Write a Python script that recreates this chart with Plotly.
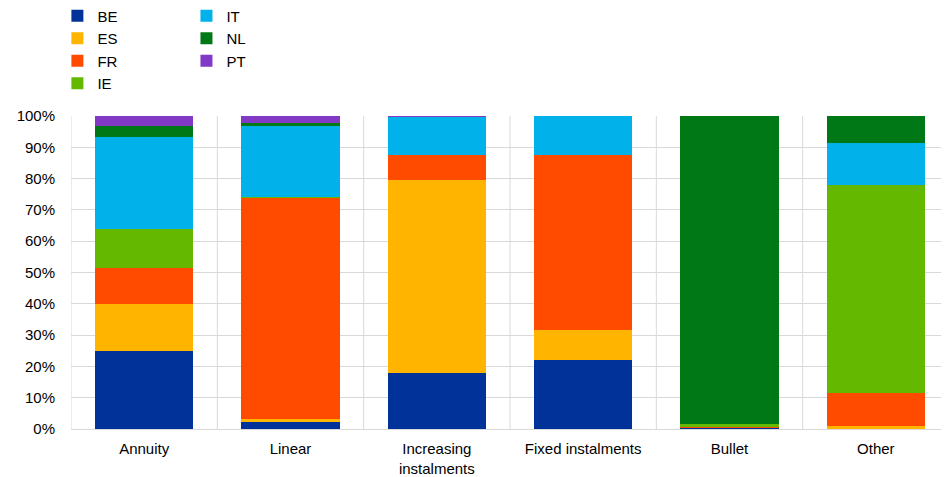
import plotly.graph_objects as go

categories = ["Annuity", "Linear", "Increasing<br>instalments", "Fixed instalments", "Bullet", "Other"]
series_names = ["BE", "ES", "FR", "IE", "IT", "NL", "PT"]
BE = [24.8, 2.3, 17.9, 22.0, 0.5, 0.0]
ES = [15.1, 0.8, 61.7, 9.6, 0.0, 1.0]
FR = [11.4, 70.9, 8.0, 55.9, 0.2, 10.6]
IE = [12.6, 0.2, 0.0, 0.0, 0.8, 66.4]
IT = [29.5, 22.6, 12.2, 12.5, 0.0, 13.4]
NL = [3.4, 1.1, 0.0, 0.0, 98.5, 8.6]
PT = [3.2, 2.1, 0.2, 0.0, 0.0, 0.0]
values = [BE, ES, FR, IE, IT, NL, PT]
colors = ["#003299", "#FFB400", "#FF4B00", "#65B800", "#00B1EA", "#007816", "#8139C6"]
y_ticks = [0, 10, 20, 30, 40, 50, 60, 70, 80, 90, 100]

fig = go.Figure()
for i, (name, vals, col) in enumerate(zip(series_names, values, colors)):
    fig.add_trace(go.Bar(
        name=name, x=categories, y=vals, marker=dict(color=col, line=dict(width=0)),
        legend="legend" if i < 4 else "legend2",
    ))

# vertical grid lines between categories
for k in range(len(categories) + 1):
    fig.add_shape(type="line", xref="x", yref="paper", x0=k - 0.5, x1=k - 0.5, y0=0, y1=1,
                  line=dict(color="#D9D9D9", width=1), layer="below")

font = dict(family="Liberation Sans, Arial, sans-serif", size=15, color="#000000")
legend_common = dict(orientation="v", xref="paper", yref="paper", yanchor="top",
                     xanchor="left", font=font, bgcolor="rgba(0,0,0,0)", tracegroupgap=0,
                     itemwidth=30, traceorder="normal")
fig.update_layout(
    barmode="stack",
    bargap=0.33,
    width=941, height=469,
    margin=dict(l=63, r=0, t=108, b=48, autoexpand=False),
    plot_bgcolor="white", paper_bgcolor="white",
    font=font,
    legend=dict(x=-0.0155, y=1.372, **legend_common),
    legend2=dict(x=0.1315, y=1.372, **legend_common),
    xaxis=dict(range=[-0.5, len(categories) - 0.5], showgrid=False, showline=True,
               linecolor="#D9D9D9", linewidth=1, ticks="", tickfont=font,
               ticklabelstandoff=6),
    yaxis=dict(range=[0, 100], tickvals=y_ticks, ticktext=[f"{v}%" for v in y_ticks],
               showgrid=True, gridcolor="#D9D9D9", gridwidth=1, zeroline=False,
               showline=False, ticks="", tickfont=font, ticklabelstandoff=15),
)
fig.write_html("out.html")
